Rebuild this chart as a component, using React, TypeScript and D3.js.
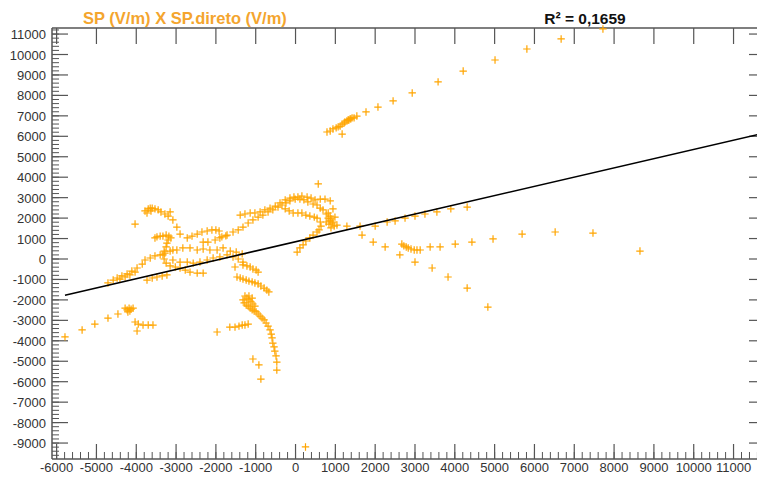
import React from "react";
import * as d3 from "d3";

// ---- Data: [SP.direto (V/m), SP (V/m)] ----
const upperBranch: [number, number][] = [
  [790, 6210], [870, 6260], [940, 6360], [1020, 6410], [1070, 6460], [1120, 6500], [1170, 6600],
  [1220, 6650], [1240, 6700], [1290, 6750], [1320, 6800], [1340, 6800], [1370, 6850], [1390, 6850],
  [1420, 6900], [1470, 6900], [1170, 6110], [1540, 6990], [1770, 7190], [2070, 7430], [2450, 7730],
  [2930, 8120], [3580, 8660], [4210, 9190], [5010, 9730], [5810, 10270], [6670, 10760], [7720, 11250],
];

const rightLower: [number, number][] = [
  [1670, 1170], [1950, 830], [2250, 590], [2670, 730], [2720, 640], [2780, 590], [2830, 540],
  [2900, 490], [2980, 440], [3050, 440], [3130, 440], [2620, 200], [3000, -150], [3380, 590],
  [3630, 590], [4010, 730], [4430, 830], [4960, 980], [5690, 1220], [6520, 1320], [7470, 1270],
  [8650, 390], [3430, -440], [3830, -880], [4310, -1420], [4830, -2350],
];

const alongLine: [number, number][] = [
  [1040, 1660], [1290, 1610], [1620, 1610], [2000, 1610], [2300, 1810], [2500, 1860], [2750, 2000],
  [3000, 2100], [3250, 2200], [3550, 2300], [3900, 2450], [4310, 2540],
];

const archOuter: [number, number][] = [
  [-1900, 1030], [-1750, 1130], [-1570, 1320], [-1440, 1420], [-1320, 1560], [-1190, 1760],
  [-1070, 1910], [-940, 2050], [-820, 2150], [-690, 2300], [-570, 2400], [-440, 2540], [-340, 2640],
  [-240, 2740], [-140, 2840], [-10, 2930], [110, 2930], [210, 2890], [310, 2790], [440, 2690],
  [540, 2640], [620, 2490], [690, 2400], [770, 2200], [820, 2000], [870, 1860], [920, 1760],
];

const archUpper: [number, number][] = [
  [-1390, 2150], [-1270, 2200], [-1140, 2250], [-1020, 2250], [-890, 2300], [-770, 2400],
  [-640, 2490], [-510, 2590], [-390, 2740], [-260, 2890], [-140, 2980], [-40, 3030], [60, 3030],
  [160, 3080], [290, 3030], [390, 2980], [490, 2890], [620, 2930], [740, 2930], [870, 2840],
  [940, 2450], [570, 3670],
];

const archInner: [number, number][] = [
  [-260, 2450], [-160, 2350], [-60, 2250], [60, 2250], [160, 2250], [260, 2150], [360, 2100],
  [470, 2050], [540, 2000], [620, 1810], [640, 1610], [590, 1420], [540, 1320], [440, 1170],
  [360, 1030], [260, 880], [190, 690], [110, 540], [40, 340],
  [820, 2250], [870, 2100], [890, 1960], [940, 1810], [840, 1710], [970, 1610], [770, 1810],
  [890, 1520], [990, 2050],
];

const fallingCluster: [number, number][] = [
  [-1520, -390], [-1320, -290], [-1220, -340], [-1140, -390], [-1070, -490], [-990, -540], [-940, -640],
  [-1470, -880], [-1390, -930], [-1320, -980], [-1240, -1030], [-1170, -1080], [-1090, -1120],
  [-1020, -1170], [-940, -1220], [-870, -1320], [-790, -1420], [-720, -1520], [-670, -1610],
  [-1270, -1810], [-1220, -1910], [-1170, -2000], [-1120, -2100], [-1290, -2150], [-1240, -2250],
  [-1190, -2300], [-1140, -2400], [-1070, -2200], [-1020, -2300], [-1090, -2490], [-1040, -2540],
  [-990, -2590], [-940, -2690], [-890, -2790], [-840, -2890], [-790, -2980], [-740, -3130],
  [-690, -3280], [-1170, -1810], [-1090, -1910], [-1320, -2000],
  [-640, -3470], [-610, -3670], [-590, -3860], [-570, -4110], [-540, -4300], [-520, -4500],
  [-490, -4740], [-470, -5040], [-470, -5430], [-1070, -4890], [-920, -5180], [-870, -5870],
  [-1650, -3330], [-1520, -3330], [-1420, -3280], [-1340, -3230], [-1270, -3230], [-1190, -3180],
  [-1970, -3570], [250, -9190],
];

const bottomLeft: [number, number][] = [
  [-5790, -3810], [-5360, -3470], [-5040, -3180], [-4710, -2890], [-4460, -2690], [-4280, -2400],
  [-4230, -2490], [-4180, -2400], [-4130, -2450], [-4160, -2540], [-4210, -2590], [-4080, -2400],
  [-4030, -3080], [-3950, -3180], [-3830, -3230], [-3700, -3230], [-3580, -3230], [-3980, -3520],
];

const leftCluster: [number, number][] = [
  [-3780, 2350], [-3700, 2450], [-3650, 2490], [-3600, 2490], [-3530, 2450], [-3450, 2400],
  [-3380, 2300], [-3280, 2200], [-3200, 2100], [-3150, 2300], [-3080, 1910], [-2980, 1560],
  [-3730, 2250], [-3630, 2350], [-4030, 1710], [-2900, 1220],
  [-3480, 1080], [-3400, 1120], [-3330, 1120], [-3250, 1170], [-3180, 1120], [-3130, 1030],
  [-3530, 1030], [-3200, 930],
  [-3230, 780], [-3250, 590], [-3300, 390], [-3330, 200], [-3300, 0], [-3250, -200], [-3150, -340],
  [-3020, -390], [-2900, -440], [-2770, -540], [-2650, -640], [-2470, -690], [-2320, -690],
  [-2720, 1030], [-2600, 1120], [-2470, 1220], [-2350, 1320], [-2220, 1370], [-2100, 1420],
  [-2000, 1420], [-1920, 1370], [-2320, 830], [-2200, 830], [-2020, 930], [-1850, 1080], [-1720, 1170],
  [-3080, 440], [-2980, 440], [-2830, 540], [-2650, 540], [-2470, 440], [-2320, 490], [-2150, 440],
  [-1970, 440], [-1820, 540], [-1640, 390], [-1490, 340], [-1340, 250],
  [-3080, -50], [-2900, -150], [-2720, -150], [-2570, -200], [-2400, -150], [-2220, -50], [-2070, 50],
  [-1900, 100], [-1720, 200], [-1570, 100], [-1440, 0], [-1320, -150],
  [-4710, -1170], [-4580, -1030], [-4480, -930], [-4360, -830], [-4230, -730], [-4110, -590],
  [-3980, -440], [-3850, -250], [-3780, -50], [-3650, 50], [-3530, 150], [-3400, 200], [-3280, 290],
  [-3150, 390], [-4410, -980], [-4280, -880], [-4160, -780], [-4030, -640],
  [-3730, -1030], [-3600, -930], [-3480, -880], [-3350, -830], [-3230, -780],
];

const allPoints = [
  ...upperBranch, ...rightLower, ...alongLine, ...archOuter, ...archUpper, ...archInner,
  ...fallingCluster, ...bottomLeft, ...leftCluster,
];

const xTicks = d3.range(-6000, 11001, 1000);
const yTicks = d3.range(-9000, 11001, 1000);
const xMinorTicks = d3.range(-6000, 11800, 200);
const yMinorTicks = d3.range(-9600, 11300, 200);

const regSlope = 0.4516;
const regIntercept = 843;
const regXStart = -5790;
const titleText = "SP (V/m) X SP.direto (V/m)";
const r2Text = "R² = 0,1659";

export default function App() {
  const W = 757, H = 478;
  const left = 52, right = 765, top = 28, bottom = 459;
  const x = d3.scaleLinear().domain([-6116, 11790]).range([left, right]);
  const y = d3.scaleLinear().domain([-9780, 11296]).range([bottom, top]);
  const axisColor = "#555";
  const textColor = "#333";
  const orange = "#FFA500";
  const font = "Arial, 'Liberation Sans', sans-serif";

  const regLine = d3.line<number>()
    .x((v) => x(v))
    .y((v) => y(regSlope * v + regIntercept));

  return (
    <svg width={W} height={H} style={{ position: "absolute", left: 0, top: 0, background: "#fff" }}
      fontFamily={font}>
      <rect x={0} y={0} width={W} height={H} fill="#fff" />
      {/* title */}
      <text x={83} y={24} fill="#F4A52E" fontWeight="bold" fontSize={16.5}>{titleText}</text>
      <text x={585} y={24} fill="#111" fontWeight="bold" fontSize={15.5} textAnchor="middle">{r2Text}</text>

      {/* frame lines */}
      <line x1={left} x2={W} y1={top} y2={top} stroke={axisColor} strokeWidth={1.5} />
      <line x1={left} x2={W} y1={bottom} y2={bottom} stroke={axisColor} strokeWidth={1.5} />
      <line x1={left} x2={left} y1={top} y2={bottom} stroke={axisColor} strokeWidth={1.5} />

      {/* left axis ticks */}
      {yMinorTicks.map((t) => (
        <line key={"ym" + t} x1={left} x2={left + 7} y1={y(t)} y2={y(t)} stroke={axisColor} strokeWidth={1} />
      ))}
      {yTicks.map((t) => (
        <g key={"y" + t}>
          <line x1={left} x2={left + 16} y1={y(t)} y2={y(t)} stroke={axisColor} strokeWidth={1.2} />
          <line x1={right} x2={right - 16} y1={y(t)} y2={y(t)} stroke={axisColor} strokeWidth={1.2} />
          <text x={46} y={y(t) + 5} textAnchor="end" fontSize={13} fill={textColor}>{t}</text>
        </g>
      ))}

      {/* bottom / top axis ticks */}
      {xMinorTicks.map((t) => (
        <line key={"xm" + t} x1={x(t)} x2={x(t)} y1={bottom} y2={bottom - 7} stroke={axisColor} strokeWidth={1} />
      ))}
      {xTicks.map((t) => (
        <g key={"x" + t}>
          <line x1={x(t)} x2={x(t)} y1={bottom} y2={bottom - 15} stroke={axisColor} strokeWidth={1.2} />
          <line x1={x(t)} x2={x(t)} y1={top} y2={top + 16} stroke={axisColor} strokeWidth={1.2} />
          <text x={x(t)} y={472} textAnchor="middle" fontSize={13} fill={textColor}>{t}</text>
        </g>
      ))}

      {/* points */}
      <g stroke={orange} strokeWidth={1.2} fill="none">
        {allPoints.map(([px, py], i) => {
          const cx = x(px), cy = y(py);
          return <path key={i} d={`M${cx - 3.7},${cy}H${cx + 3.7}M${cx},${cy - 3.7}V${cy + 3.7}`} />;
        })}
      </g>

      {/* regression line */}
      <path d={regLine([regXStart, 11790]) || ""} stroke="#000" strokeWidth={1.6} fill="none" />
    </svg>
  );
}
